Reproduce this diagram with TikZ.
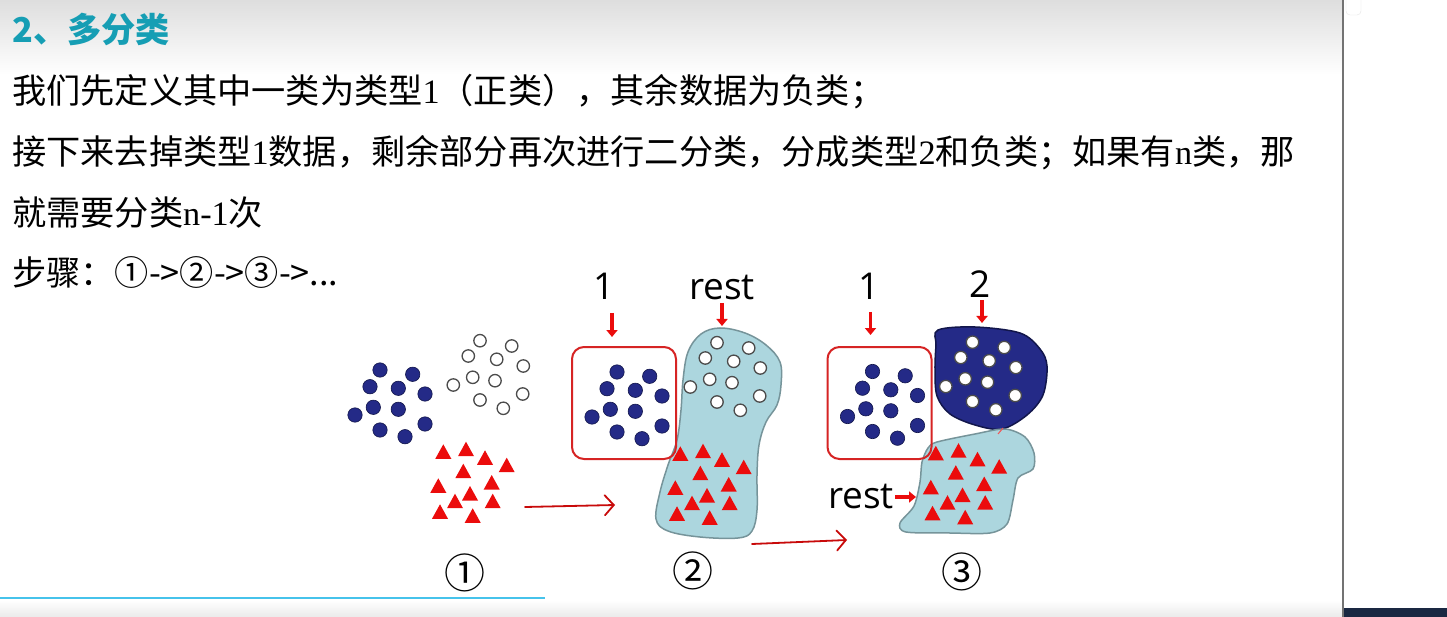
\documentclass[tikz,border=0pt]{standalone}
\usepackage{fontspec}
\setmainfont{Liberation Serif}
\newfontfamily\cjk{Noto Sans CJK SC}
\newfontfamily\lblfont{Open Sans}
\usetikzlibrary{arrows.meta}

\definecolor{headteal}{RGB}{22,158,180}
\definecolor{navy}{RGB}{36,42,135}
\definecolor{navyline}{RGB}{18,22,75}
\definecolor{paleblue}{RGB}{172,214,222}
\definecolor{paleline}{RGB}{118,148,154}
\definecolor{ptred}{RGB}{235,12,12}
\definecolor{boxred}{RGB}{214,36,36}
\definecolor{barblue}{RGB}{70,195,235}
\definecolor{darkstrip}{RGB}{26,40,66}

% point sets of panel 1 (pixel coordinates)
\newcommand{\bluelist}{380/370,412.7/374.3,370/386.7,398.3/388.3,425/394,373.3/407.3,398.3/409.3,355/415,425/424,380/430,405/436.7}
\newcommand{\whitelist}{480/340.7,511.7/346,468.3/356,496.7/359.3,523.3/366,472.7/377.3,495/380.7,453.3/385,522.7/394,480/400,503.3/408.3}
\newcommand{\redlist}{443.3/453.3,466/450.7,485/459.3,506.7/466.7,463.3/472.7,491.7/484,438.3/487.3,470/495,455/502.7,492.7/502.7,440/513.3,472.7/517.3}
\newcommand{\bodysize}{\fontsize{34.2pt}{40pt}\selectfont}

\begin{document}
\begin{tikzpicture}[x=1pt,y=-1pt,
bodytext/.style={anchor=base west,inner sep=0pt,font=\bodysize\cjk},
headtext/.style={bodytext,text=headteal,font=\bodysize\cjk\bfseries},
lbl/.style={anchor=base,inner sep=0pt,font=\fontsize{37pt}{40pt}\lblfont},
stepno/.style={inner sep=0pt,font=\fontsize{41pt}{44pt}\cjk},
classbox/.style={draw=boxred,line width=2pt,rounded corners=12pt,minimum width=104pt,minimum height=112pt,inner sep=0pt},
bluedot/.style={fill=navy,draw=navyline,line width=0.6pt},
whitedot/.style={fill=white,draw=black!70,line width=1.3pt},
tri/.style={fill=ptred},
redarr/.style={draw=ptred,line width=3.5pt,-{Triangle[length=7pt,width=11pt]}},
steparr/.style={draw=ptred!85!black,line width=1.8pt,line cap=round,-{Straight Barb[length=9pt,width=20pt,line cap=round]}},
blobpale/.style={fill=paleblue,draw=paleline,line width=1.5pt},
blobdark/.style={fill=navy,draw=navyline,line width=1.5pt}]
\useasboundingbox (0,0) rectangle (1447,617);
% page
\fill[white] (0,0) rectangle (1447,617);
\shade[top color=black!13,bottom color=white] (0,0) rectangle (1343,75);
\shade[top color=white,bottom color=black!8] (0,600) rectangle (1343,617);
\draw[barblue,line width=1.5pt] (0,598) -- (545,598);
\draw[black!10,fill=white,rounded corners=4pt] (1346,-6) rectangle (1361,15);
\draw[black!55,line width=2pt] (1343,0) -- (1343,617);
\fill[darkstrip] (1344,608) rectangle (1447,617);

% text
\node[headtext] (head) at (12,43) {2、多分类};
\node[bodytext] (lineA) at (12,104) {我们先定义其中一类为类型\textrm{1}（正类），其余数据为负类；};
\node[bodytext] (lineB) at (12,165) {接下来去掉类型\textrm{1}数据，剩余部分再次进行二分类，分成类型\textrm{2}和负类；如果有\textrm{n}类，那};
\node[bodytext] (lineC) at (12,226) {就需要分类\textrm{n-1}次};
\node[bodytext] (lineD) at (12,286) {步骤：①->②->③->...};

% blobs and boxes
\draw[blobpale] plot[smooth cycle,tension=0.6] coordinates {(720,328) (745,333) (766,345) (780,362) (781,385) (777,405) (766,422) (759,445) (757,475) (757,510) (752,531) (738,538) (700,537) (668,531) (656,519) (660,492) (668,465) (677,440) (681,410) (683,380) (688,352) (701,334)};
\draw[blobdark] plot[smooth cycle,tension=0.55] coordinates {(938,330) (975,327) (1020,333) (1040,349) (1047,366) (1043,395) (1027,415) (1002,429) (975,425) (950,414) (937,396) (935,370) (936,345)};
\draw[blobpale] plot[smooth cycle,tension=0.5] coordinates {(937,442) (975,434) (1005,429) (1025,437) (1034,453) (1033,469) (1018,478) (1013,500) (1007,524) (990,533) (950,533) (906,532) (900,523) (914,506) (920,482) (922,462) (928,448)};
\draw[ptred!70,line width=1pt] (998,434) -- (1003,428);
\node[classbox] (boxA) at (624,403) {};
\node[classbox] (boxB) at (879.5,403) {};

% points, one copy per panel
\foreach \sx/\sy in {0/0,237/2,492.5/1.5}{
\begin{scope}[shift={(\sx,\sy)}]
\foreach \x/\y in \bluelist {\draw[bluedot] (\x,\y) circle (7.2pt);}
\foreach \x/\y in \whitelist {\draw[whitedot] (\x,\y) circle (6.2pt);}
\foreach \x/\y in \redlist {\fill[tri] (\x,\y) ++(-8,5.5) -- ++(16,0) -- ++(-8,-14.5) -- cycle;}
\end{scope}
}

% labels
\node[lbl] (oneA) at (604.5,300) {1};
\node[lbl] (restA) at (722,300) {rest};
\node[lbl] (oneB) at (869,300) {1};
\node[lbl] (twoB) at (980,298) {2};
\node[lbl] (restB) at (861,508) {rest};
\coordinate (oneAs) at (612,313);
\coordinate (oneAe) at (612,337);
\coordinate (restAs) at (722,303);
\coordinate (restAe) at (722,326);
\coordinate (oneBs) at (870.5,312);
\coordinate (oneBe) at (870.5,335);
\coordinate (twoBs) at (982,300);
\coordinate (twoBe) at (982,323);
\coordinate (restBs) at (895,497);
\coordinate (restBe) at (916,497);
\draw[redarr] (oneAs) -- (oneAe);
\draw[redarr] (restAs) -- (restAe);
\draw[redarr] (oneBs) -- (oneBe);
\draw[redarr] (twoBs) -- (twoBe);
\draw[redarr] (restBs) -- (restBe);

% steps
\coordinate (goA) at (525,507);
\coordinate (goB) at (615,505);
\coordinate (goC) at (752,544);
\coordinate (goD) at (847,540);
\draw[steparr] (goA) -- (goB);
\draw[steparr] (goC) -- (goD);
\node[stepno] (stepA) at (465,573) {①};
\node[stepno] (stepB) at (693,571) {②};
\node[stepno] (stepC) at (962,572) {③};
\end{tikzpicture}
\end{document}
